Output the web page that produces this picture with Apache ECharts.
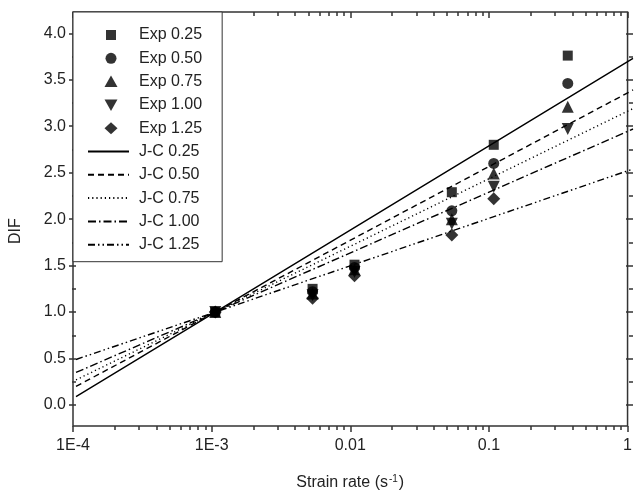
<!DOCTYPE html>
<html>
<head>
<meta charset="utf-8">
<script src="https://cdn.jsdelivr.net/npm/echarts@6/dist/echarts.min.js"></script>
<style>
  html, body { margin: 0; padding: 0; background: #fff; }
  #chart { width: 635px; height: 496px; }
</style>
</head>
<body>
<div id="chart"></div>
<script>
// Experimental dynamic increase factor (DIF) against strain rate
const strainRates = [0.001, 0.005, 0.01, 0.05, 0.1, 0.34];
const exp025 = [1.0, 1.25, 1.51, 2.29, 2.80, 3.76];
const exp050 = [1.0, 1.22, 1.48, 2.09, 2.60, 3.46];
const exp075 = [1.0, 1.20, 1.46, 2.00, 2.49, 3.21];
const exp100 = [1.0, 1.18, 1.43, 1.95, 2.35, 2.97];
const exp125 = [1.0, 1.15, 1.39, 1.83, 2.22, null];

// Johnson-Cook fits (straight lines on the log strain-rate axis)
const lineRates = [1e-4, 1e-3, 1];
const jc025 = [0.09, 1.0, 3.73];
const jc050 = [0.20, 1.0, 3.39];
const jc075 = [0.27, 1.0, 3.19];
const jc100 = [0.35, 1.0, 2.97];
const jc125 = [0.49, 1.0, 2.54];

const yTicks = [0.0, 0.5, 1.0, 1.5, 2.0, 2.5, 3.0, 3.5, 4.0];

const FONT = '"Liberation Sans", Arial, sans-serif';
const INK = '#222';
const AXIS = '#333';

function pairs(xs, ys) {
  return xs.map((x, i) => [x, ys[i]]).filter(p => p[1] !== null);
}

function rateLabel(v) {
  const e = Math.round(Math.log10(v));
  if (e <= -3) return '1E' + e;
  if (e === -2) return '0.01';
  if (e === -1) return '0.1';
  return '1';
}

// Legend glyphs drawn inside a 41x12 frame (the two leading moveTo's pin the
// frame so the glyph keeps its proportions instead of stretching to fill it).
const FRAME = 'path://M0,0M41,12';
const legendIcons = {
  rect: FRAME + 'M18,1L28,1L28,11L18,11Z',
  circle: FRAME + 'M17.5,6A5.5,5.5,0,1,0,28.5,6A5.5,5.5,0,1,0,17.5,6Z',
  up: FRAME + 'M23,0L29.5,11.5L16.5,11.5Z',
  down: FRAME + 'M16.5,0.5L29.5,0.5L23,12Z',
  diamond: FRAME + 'M23,0L29.5,6L23,12L16.5,6Z'
};

const expDefs = [
  ['Exp 0.25', exp025, 'rect', 10, 0, 'rect'],
  ['Exp 0.50', exp050, 'circle', 11, 0, 'circle'],
  ['Exp 0.75', exp075, 'triangle', 12, 0, 'up'],
  ['Exp 1.00', exp100, 'triangle', 12, 180, 'down'],
  ['Exp 1.25', exp125, 'diamond', 13, 0, 'diamond']
];

const expSeries = expDefs.map(([name, ys, symbol, size, rot]) => ({
  name, type: 'scatter', xAxisIndex: 2, yAxisIndex: 1,
  symbol, symbolSize: size, symbolRotate: rot, symbolKeepAspect: true,
  itemStyle: { color: '#000' },
  data: pairs(strainRates, ys), z: 5
}));

const jcSeries = [
  ['J-C 0.25', jc025, 'solid'],
  ['J-C 0.50', jc050, [6, 4]],
  ['J-C 0.75', jc075, [1.2, 3]],
  ['J-C 1.00', jc100, [8, 3, 1.5, 3]],
  ['J-C 1.25', jc125, [7, 3, 1.5, 3, 1.5, 3]]
].map(([name, ys, dash]) => ({
  name, type: 'line', xAxisIndex: 2, yAxisIndex: 1,
  showSymbol: false, symbol: 'none',
  itemStyle: { color: '#000' },
  lineStyle: { color: '#000', width: 1.4, type: dash },
  data: pairs(lineRates, ys), z: 4
}));

const legendData = expDefs.map(([name, , , , , icon]) => ({
  name, icon: legendIcons[icon], symbolRotate: 0, itemStyle: { color: '#000' }
})).concat(jcSeries.map(s => ({
  name: s.name, itemStyle: { opacity: 0 }
})));

const logAxisBase = {
  type: 'log', logBase: 10, min: 1e-4, max: 1,
  axisLine: { show: false, onZero: false },
  splitLine: { show: false }
};

const chart = echarts.init(document.getElementById('chart'));
chart.setOption({
  animation: false,
  backgroundColor: '#fff',
  textStyle: { fontFamily: FONT },
  grid: [
    { left: 73, right: 2, top: 12, bottom: 68, show: true,
      borderColor: AXIS, borderWidth: 1.5, backgroundColor: 'transparent' },
    { left: 73, right: 2, top: 33.3, bottom: 91 }
  ],
  xAxis: [
    Object.assign({}, logAxisBase, {
      gridIndex: 0, position: 'bottom',
      name: '{a|Strain rate (s}{b|-1}{a|)}',
      nameLocation: 'middle', nameGap: 48,
      nameTextStyle: {
        rich: {
          a: { fontSize: 16, color: INK, fontFamily: FONT },
          b: { fontSize: 10, color: INK, fontFamily: FONT, verticalAlign: 'top', padding: [0, 1, 8, 1] }
        }
      },
      axisTick: { show: true, inside: false, length: 6, lineStyle: { color: AXIS, width: 1.5 } },
      minorTick: { show: true, splitNumber: 9, length: 4, lineStyle: { color: AXIS, width: 1.5 } },
      axisLabel: { show: true, formatter: rateLabel, fontSize: 16, color: INK, margin: 12 }
    }),
    Object.assign({}, logAxisBase, {
      gridIndex: 0, position: 'top',
      axisTick: { show: true, inside: true, length: 6, lineStyle: { color: AXIS, width: 1.5 } },
      minorTick: { show: true, splitNumber: 9, length: 4, lineStyle: { color: AXIS, width: 1.5 } },
      axisLabel: { show: false }
    }),
    Object.assign({}, logAxisBase, {
      gridIndex: 1, show: false
    })
  ],
  yAxis: [
    { type: 'value', gridIndex: 0, min: -0.25, max: 4.25, show: false },
    {
      type: 'value', gridIndex: 1, position: 'left',
      min: yTicks[0], max: yTicks[yTicks.length - 1], interval: 0.5,
      name: 'DIF', nameLocation: 'middle', nameGap: 52,
      nameTextStyle: { fontSize: 16, color: INK, padding: [0, 24, 0, 0] },
      axisLine: { show: false, onZero: false },
      splitLine: { show: false },
      axisTick: { show: true, inside: false, length: 7, lineStyle: { color: AXIS, width: 1.5 } },
      minorTick: { show: true, splitNumber: 2, length: 4, lineStyle: { color: AXIS, width: 1.5 } },
      axisLabel: { formatter: v => v.toFixed(1), fontSize: 16, color: INK, margin: 10 }
    },
    {
      type: 'value', gridIndex: 1, position: 'right',
      min: yTicks[0], max: yTicks[yTicks.length - 1], interval: 0.5,
      axisLine: { show: false, onZero: false },
      splitLine: { show: false },
      axisTick: { show: true, inside: true, length: 7, lineStyle: { color: AXIS, width: 1.5 } },
      minorTick: { show: true, splitNumber: 2, length: 4, lineStyle: { color: AXIS, width: 1.5 } },
      axisLabel: { show: false }
    }
  ],
  legend: {
    orient: 'vertical', left: 73, top: 12,
    padding: [15, 20, 9, 14],
    borderColor: AXIS, borderWidth: 1, backgroundColor: '#fff',
    itemWidth: 41, itemHeight: 12, itemGap: 7.3,
    textStyle: { fontSize: 16, color: INK, fontFamily: FONT, padding: [0, 0, 0, 5] },
    data: legendData
  },
  series: expSeries.concat(jcSeries)
});
</script>
</body>
</html>
